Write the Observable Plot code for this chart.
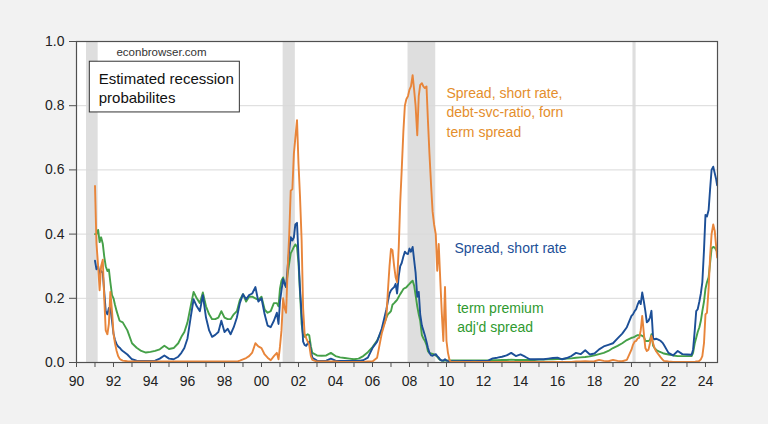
<!DOCTYPE html>
<html>
<head>
<meta charset="utf-8">
<script src="https://cdn.jsdelivr.net/npm/d3@7"></script>
<script src="https://cdn.jsdelivr.net/npm/@observablehq/plot@0.6"></script>
<style>
  html, body { margin: 0; padding: 0; background: #f2f2f2; }
  #chart { width: 768px; height: 424px; }
</style>
</head>
<body>
<div id="chart"></div>
<script>
// Dates (decimal years)
const dates = [
  1991.00,1991.08,1991.17,1991.25,1991.33,1991.42,1991.50,1991.58,1991.67,1991.75,1991.83,1991.92,
  1992.00,1992.08,1992.17,1992.25,1992.33,1992.42,1992.50,
  1992.75,1993.00,1993.25,1993.50,1993.75,1994.00,1994.25,1994.50,1994.75,1995.00,1995.25,1995.50,
  1995.67,1995.83,1996.00,1996.17,1996.33,1996.50,1996.67,1996.83,1997.00,1997.17,1997.33,1997.50,
  1997.67,1997.83,1998.00,1998.17,1998.33,1998.50,1998.67,1998.83,1999.00,1999.17,1999.33,1999.50,
  1999.67,1999.83,2000.00,2000.17,2000.33,2000.50,2000.67,2000.83,
  2000.92,2001.00,2001.08,2001.17,2001.25,2001.33,2001.42,2001.50,2001.58,2001.67,2001.75,2001.83,
  2001.92,2002.00,2002.08,2002.17,2002.25,2002.33,2002.42,2002.50,2002.58,2002.67,2002.75,
  2003.00,2003.25,2003.50,2003.75,2004.00,2004.25,2004.50,2004.75,2005.00,2005.25,2005.50,2005.75,
  2006.00,2006.25,2006.50,2006.75,
  2006.83,2006.92,2007.00,2007.08,2007.17,2007.25,2007.33,2007.42,2007.50,2007.58,2007.67,2007.75,
  2007.83,2007.92,2008.00,2008.08,2008.17,2008.25,2008.33,2008.42,2008.50,2008.58,2008.67,2008.75,
  2008.83,2008.92,2009.00,2009.08,2009.17,2009.25,2009.33,2009.42,2009.50,2009.58,2009.67,2009.75,
  2009.83,2009.92,2010.00,2010.08,2010.17,2010.25,
  2010.50,2010.75,2011.00,2011.25,2011.50,2011.75,2012.00,2012.25,2012.50,2012.75,2013.00,2013.25,
  2013.50,2013.75,2014.00,2014.25,2014.50,2014.75,2015.00,2015.25,2015.50,2015.75,2016.00,2016.25,
  2016.50,2016.75,2017.00,2017.25,2017.50,2017.75,2018.00,2018.25,2018.50,2018.75,2019.00,2019.25,
  2019.50,2019.75,
  2020.00,2020.08,2020.17,2020.25,2020.33,2020.42,2020.50,2020.58,2020.67,2020.75,2020.83,2020.92,
  2021.00,2021.08,2021.17,2021.25,2021.33,2021.42,2021.50,2021.58,2021.67,2021.75,
  2022.00,2022.25,2022.50,2022.75,2023.00,2023.25,
  2023.33,2023.42,2023.50,2023.58,2023.67,2023.75,2023.83,2023.92,2024.00,2024.08,2024.17,2024.25,
  2024.33,2024.42,2024.50,2024.58,2024.63
];

// Spread, short rate (blue)
const spreadShort = [
  0.317,0.29,0.30,0.275,0.285,0.28,0.22,0.16,0.15,0.17,0.17,0.13,
  0.09,0.07,0.057,0.05,0.046,0.04,0.036,
  0.025,0.01,0.006,0.005,0.005,0.005,0.006,0.012,0.022,0.012,0.01,0.018,
  0.03,0.045,0.075,0.14,0.197,0.175,0.16,0.21,0.14,0.10,0.08,0.086,
  0.095,0.13,0.095,0.105,0.088,0.11,0.14,0.185,0.213,0.197,0.21,0.215,
  0.235,0.19,0.20,0.15,0.115,0.11,0.13,0.155,
  0.12,0.19,0.225,0.26,0.245,0.235,0.30,0.35,0.39,0.38,0.39,0.43,
  0.435,0.33,0.23,0.15,0.065,0.055,0.052,0.06,0.065,0.036,0.015,
  0.006,0.005,0.006,0.012,0.006,0.005,0.005,0.005,0.005,0.005,0.007,0.015,
  0.045,0.065,0.105,0.165,
  0.19,0.215,0.225,0.23,0.235,0.245,0.215,0.27,0.30,0.31,0.33,0.345,
  0.34,0.338,0.355,0.345,0.36,0.32,0.28,0.205,0.22,0.15,0.115,0.10,
  0.085,0.065,0.045,0.03,0.022,0.021,0.024,0.026,0.02,0.015,0.008,0.006,
  0.006,0.01,0.006,0.005,0.004,0.004,
  0.004,0.004,0.005,0.005,0.004,0.005,0.005,0.006,0.013,0.015,0.018,0.022,
  0.03,0.02,0.025,0.018,0.01,0.01,0.01,0.01,0.012,0.014,0.015,0.01,
  0.014,0.02,0.03,0.026,0.038,0.025,0.028,0.041,0.05,0.055,0.06,0.075,
  0.09,0.11,
  0.145,0.15,0.16,0.166,0.18,0.192,0.182,0.218,0.19,0.16,0.125,0.13,
  0.14,0.161,0.075,0.072,0.074,0.072,0.07,0.067,0.062,0.055,
  0.03,0.022,0.036,0.026,0.025,0.024,
  0.04,0.10,0.16,0.166,0.19,0.215,0.25,0.35,0.46,0.455,0.475,0.54,
  0.60,0.61,0.59,0.57,0.552
];

// Spread, short rate, debt-svc-ratio, forn term spread (orange)
const multiVar = [
  0.55,0.37,0.30,0.225,0.30,0.32,0.20,0.10,0.088,0.12,0.22,0.16,
  0.09,0.06,0.036,0.02,0.012,0.008,0.006,
  0.004,0.003,0.003,0.003,0.003,0.003,0.003,0.003,0.003,0.003,0.003,0.003,
  0.003,0.003,0.003,0.003,0.003,0.003,0.003,0.003,0.003,0.003,0.003,0.003,
  0.003,0.003,0.003,0.003,0.003,0.003,0.003,0.006,0.01,0.014,0.02,0.031,
  0.06,0.05,0.045,0.025,0.015,0.007,0.02,0.03,
  0.01,0.05,0.10,0.20,0.17,0.155,0.30,0.40,0.535,0.54,0.65,0.70,
  0.755,0.62,0.52,0.38,0.17,0.09,0.075,0.065,0.055,0.02,0.008,
  0.003,0.003,0.003,0.003,0.003,0.002,0.002,0.002,0.002,0.002,0.002,0.003,
  0.003,0.015,0.09,0.14,
  0.22,0.30,0.354,0.35,0.30,0.266,0.25,0.36,0.50,0.60,0.72,0.80,
  0.82,0.83,0.85,0.86,0.895,0.85,0.80,0.708,0.83,0.865,0.87,0.86,
  0.855,0.86,0.75,0.65,0.55,0.47,0.43,0.40,0.286,0.369,0.25,0.15,
  0.067,0.235,0.067,0.03,0.006,0.002,
  0.002,0.002,0.002,0.002,0.002,0.002,0.002,0.002,0.002,0.002,0.002,0.002,
  0.002,0.002,0.002,0.002,0.002,0.002,0.002,0.002,0.002,0.002,0.002,0.002,
  0.002,0.002,0.003,0.003,0.004,0.003,0.004,0.008,0.005,0.004,0.008,0.005,
  0.004,0.008,
  0.04,0.055,0.065,0.067,0.075,0.077,0.10,0.145,0.09,0.045,0.036,0.04,
  0.06,0.083,0.06,0.045,0.035,0.028,0.022,0.016,0.01,0.005,
  0.003,0.002,0.002,0.002,0.002,0.002,
  0.002,0.002,0.003,0.003,0.005,0.01,0.02,0.06,0.15,0.155,0.23,0.33,
  0.40,0.43,0.41,0.36,0.327
];

// term premium adj'd spread (green)
const termPrem = [
  0.40,0.40,0.413,0.375,0.39,0.37,0.33,0.30,0.285,0.29,0.25,0.21,
  0.20,0.18,0.16,0.145,0.13,0.127,0.125,
  0.10,0.06,0.046,0.036,0.031,0.033,0.036,0.041,0.052,0.042,0.045,0.06,
  0.08,0.095,0.125,0.175,0.22,0.20,0.185,0.218,0.175,0.15,0.135,0.135,
  0.14,0.16,0.14,0.135,0.135,0.15,0.16,0.195,0.213,0.19,0.205,0.205,
  0.20,0.195,0.205,0.165,0.155,0.16,0.185,0.185,
  0.175,0.23,0.255,0.265,0.245,0.235,0.28,0.31,0.34,0.35,0.36,0.368,
  0.36,0.31,0.22,0.12,0.085,0.08,0.085,0.088,0.085,0.05,0.03,
  0.022,0.021,0.022,0.03,0.02,0.016,0.014,0.012,0.01,0.012,0.02,0.032,
  0.048,0.068,0.10,0.14,
  0.15,0.155,0.16,0.18,0.185,0.19,0.195,0.205,0.213,0.22,0.229,0.232,
  0.234,0.24,0.245,0.25,0.255,0.24,0.21,0.175,0.15,0.13,0.085,0.075,
  0.068,0.055,0.035,0.03,0.028,0.027,0.025,0.022,0.018,0.012,0.008,0.006,
  0.005,0.006,0.006,0.006,0.006,0.006,
  0.006,0.006,0.006,0.006,0.006,0.006,0.006,0.006,0.007,0.007,0.008,0.008,
  0.009,0.008,0.008,0.008,0.008,0.008,0.009,0.009,0.01,0.01,0.011,0.011,
  0.012,0.013,0.015,0.016,0.017,0.019,0.022,0.026,0.03,0.036,0.045,0.052,
  0.06,0.07,
  0.077,0.078,0.08,0.083,0.085,0.085,0.085,0.083,0.08,0.067,0.067,0.067,
  0.07,0.088,0.052,0.045,0.04,0.036,0.034,0.032,0.03,0.028,
  0.025,0.022,0.02,0.02,0.02,0.02,
  0.03,0.06,0.077,0.095,0.11,0.13,0.16,0.19,0.23,0.25,0.265,0.31,
  0.355,0.36,0.358,0.35,0.345
];

// NBER recessions
const recStart = [1990.54, 2001.17, 2007.92, 2020.08];
const recEnd   = [1991.17, 2001.83, 2009.42, 2020.25];

const yTicks = [0, 0.2, 0.4, 0.6, 0.8, 1.0];
const xTicks = d3.range(1990, 2025);

const labelMulti = "Spread, short rate,\ndebt-svc-ratio, forn\nterm spread";
const labelSpread = "Spread, short rate";
const labelTerm = "term premium\nadj'd spread";
const titleText = "Estimated recession\nprobabilites";
const sourceText = "econbrowser.com";

const rows = dates.map((d, i) => ({
  date: d, spread: spreadShort[i], multi: multiVar[i], term: termPrem[i]
}));
const recessions = recStart.map((s, i) => ({start: s, end: recEnd[i]}));

const C_BLUE = "#1c4f97", C_ORANGE = "#e8853a", C_GREEN = "#45a048";
const FONT = "'Liberation Sans', Arial, Helvetica, sans-serif";

const chart = Plot.plot({
  width: 768,
  height: 424,
  marginLeft: 76,
  marginRight: 51,
  marginTop: 41,
  marginBottom: 62,
  style: { background: "transparent", fontFamily: FONT, fontSize: "14px", color: "#222" },
  x: { domain: [1990, 2024.65], label: null },
  y: { domain: [0, 1], label: null },
  marks: [
    Plot.frame({ fill: "white", stroke: null }),
    Plot.rect(recessions, { x1: "start", x2: "end", y1: 0, y2: 1, fill: "#dedede" }),
    Plot.ruleY([0.2, 0.4, 0.6, 0.8], { stroke: "#d9d9d9", strokeWidth: 1 }),
    Plot.line(rows, { x: "date", y: "term", stroke: C_GREEN, strokeWidth: 1.9 }),
    Plot.line(rows, { x: "date", y: "spread", stroke: C_BLUE, strokeWidth: 1.9 }),
    Plot.line(rows, { x: "date", y: "multi", stroke: C_ORANGE, strokeWidth: 1.9 }),
    Plot.frame({ stroke: "#505050", strokeWidth: 1.2 }),
    Plot.axisY({ ticks: yTicks, tickFormat: d3.format(".1f"), tickSize: 7, tickPadding: 5, fontSize: 14, stroke: "#505050", color: "#222" }),
    Plot.axisX({ ticks: xTicks, tickFormat: d => d % 2 === 0 ? String(d).slice(2) : "", tickSize: 5, tickPadding: 9, fontSize: 14, stroke: "#505050", color: "#222" }),
    Plot.text([sourceText], { x: 1992.16, y: 0.967, text: d => d, textAnchor: "start", lineAnchor: "middle", fontSize: 11.5, fill: "#333" }),
    Plot.rect([0], { x1: 1990.72, x2: 1998.83, y1: 0.779, y2: 0.937, fill: "white", stroke: "#333", strokeWidth: 1 }),
    Plot.text([titleText], { x: 1991.2, y: 0.857, text: d => d, textAnchor: "start", lineAnchor: "middle", lineHeight: 1.27, fontSize: 15, fill: "#111" }),
    Plot.text([labelMulti], { x: 2010.0, y: 0.783, text: d => d, textAnchor: "start", lineAnchor: "middle", lineHeight: 1.39, fontSize: 14, fill: "#e48e2c" }),
    Plot.text([labelSpread], { x: 2010.43, y: 0.355, text: d => d, textAnchor: "start", lineAnchor: "middle", fontSize: 14, fill: C_BLUE }),
    Plot.text([labelTerm], { x: 2010.58, y: 0.144, text: d => d, textAnchor: "start", lineAnchor: "middle", lineHeight: 1.36, fontSize: 14, fill: "#2f9a2f" })
  ]
});
document.getElementById("chart").appendChild(chart);
</script>
</body>
</html>
